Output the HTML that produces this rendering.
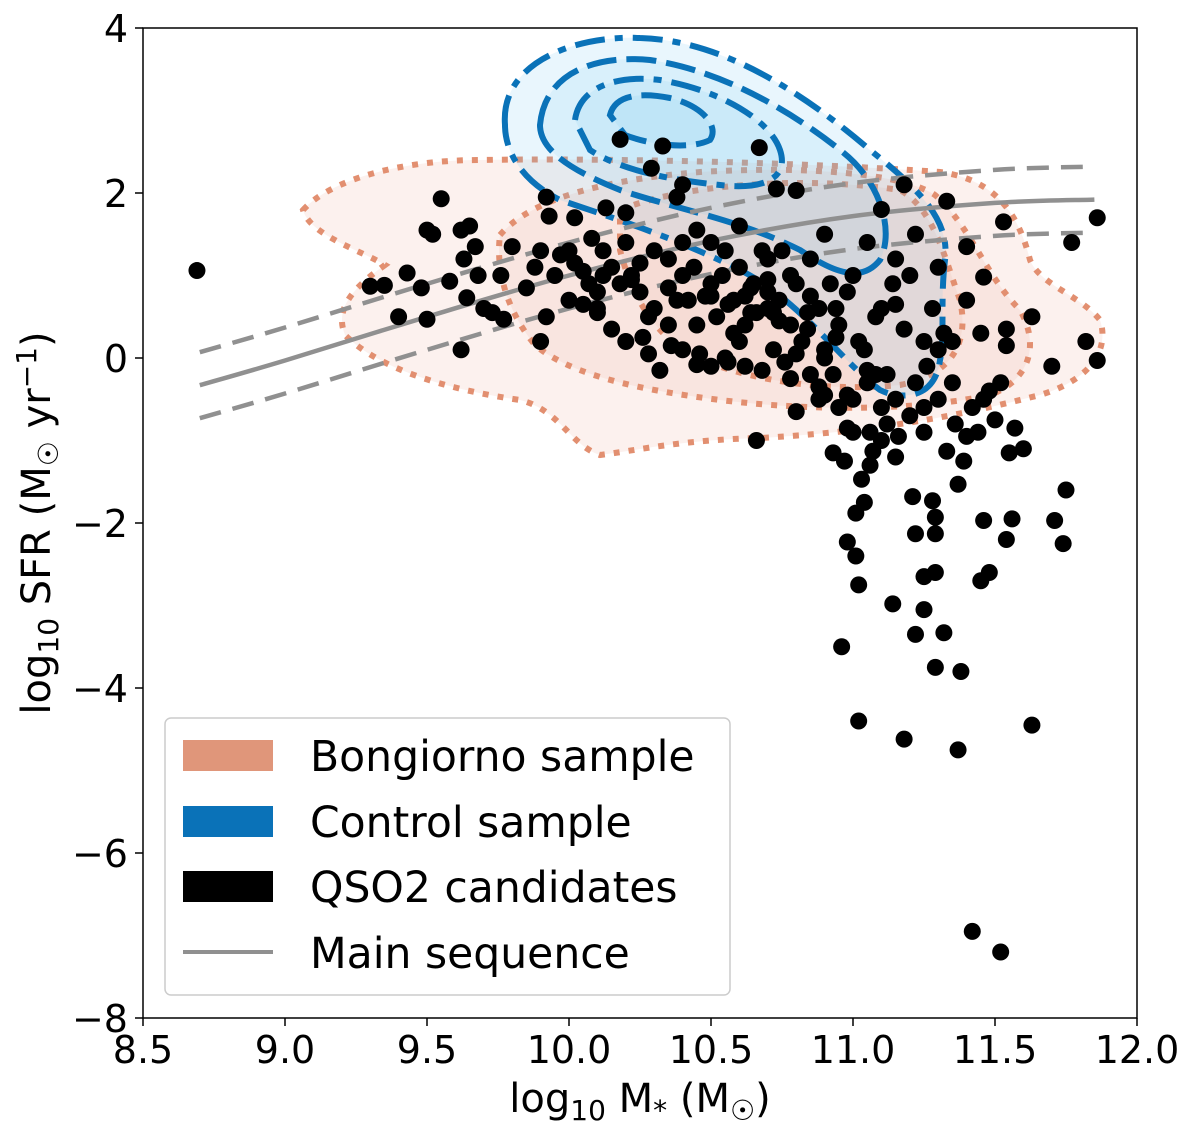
<!DOCTYPE html>
<html><head><meta charset="utf-8">
<style>
body{margin:0;background:#fff;}
svg{display:block;font-family:"DejaVu Sans","Liberation Sans",sans-serif;}
</style></head>
<body>
<svg id="chart" width="1200" height="1132" viewBox="0 0 1200 1132" xmlns="http://www.w3.org/2000/svg">
<defs><clipPath id="pc"><rect x="143" y="28" width="994" height="990"/></clipPath></defs>
<rect x="0" y="0" width="1200" height="1132" fill="#fff"/>
<g clip-path="url(#pc)">
 <g fill="#e5967a" stroke="#e28f70" stroke-width="6" stroke-dasharray="6 9">
  <path fill-opacity="0.13" d="M303 210 C330 180 400 160 480 160 C600 158 800 162 940 172 C1000 180 1020 220 1030 260 C1040 285 1080 295 1100 320 C1110 350 1090 380 1040 395 C980 410 900 430 760 438 C680 440 640 450 600 455 C570 445 560 410 520 400 C450 390 380 370 345 335 C335 310 350 290 385 265 C360 250 310 235 303 210 Z"/>
  <path fill-opacity="0.12" d="M500 235 C530 200 600 180 700 172 C800 166 900 172 935 195 C970 225 985 275 1020 310 C1040 345 1030 380 990 395 C920 410 820 412 720 400 C640 390 570 375 535 345 C510 315 495 275 500 235 Z"/>
  <path fill-opacity="0.1" d="M620 210 C680 185 800 175 900 190 C935 210 945 260 960 300 C970 345 950 375 900 385 C830 392 750 382 690 355 C650 330 630 290 620 250 Z"/>
 </g>
 <g fill="#6cc3f0" stroke="#0a72b8" stroke-width="6" stroke-linecap="butt">
  <path fill-opacity="0.15" stroke-dasharray="30 10 8 10" d="M505 125 C500 60 580 35 640 38 C720 40 800 90 870 150 C920 190 950 220 945 260 C940 300 945 340 940 360 C935 400 900 400 880 390 C840 360 800 300 740 270 C680 240 620 220 560 200 C520 180 505 150 505 125 Z"/>
  <path fill-opacity="0.12" stroke-dasharray="30 10" d="M540 125 C545 70 600 55 650 60 C720 70 790 110 840 150 C880 180 895 230 880 260 C860 285 830 270 800 250 C740 220 680 210 620 190 C570 170 540 150 540 125 Z"/>
  <path fill-opacity="0.12" stroke-dasharray="30 10 8 10" d="M575 120 C580 85 620 75 660 80 C720 90 770 120 780 150 C790 180 760 190 720 185 C670 180 620 170 590 150 Z"/>
  <path fill-opacity="0.12" stroke-dasharray="30 10" d="M610 115 C615 95 640 92 670 98 C700 105 720 125 710 140 C690 150 650 145 625 135 Z"/>
 </g>
</g>
<g id="ms"></g>
<g id="pts" clip-path="url(#pc)"></g>
<rect x="143" y="28" width="994" height="990" fill="none" stroke="#000" stroke-width="1.5"/>
<g id="ticks" font-size="38" fill="#000"></g>
<text x="640" y="1112" font-size="40" text-anchor="middle">log<tspan font-size="28" dy="8">10</tspan><tspan dy="-8"> M</tspan><tspan font-size="28" dy="8">*</tspan><tspan dy="-8"> (M</tspan><tspan font-size="28" dy="8">☉</tspan><tspan dy="-8">)</tspan></text>
<text transform="translate(50,523) rotate(-90)" font-size="40" text-anchor="middle">log<tspan font-size="28" dy="8">10</tspan><tspan dy="-8"> SFR (M</tspan><tspan font-size="28" dy="8">☉</tspan><tspan dy="-8"> yr</tspan><tspan font-size="28" dy="-14">−1</tspan><tspan dy="14">)</tspan></text>
<g>
 <rect x="165" y="718" width="565" height="277" rx="6" fill="#fff" fill-opacity="0.85" stroke="#ccc" stroke-width="1.5"/>
 <rect x="183" y="740" width="90" height="31" fill="#e0967a"/>
 <text x="310" y="771" font-size="42.5">Bongiorno sample</text>
 <rect x="183" y="806" width="90" height="31" fill="#0a72b8"/>
 <text x="310" y="837" font-size="42.5">Control sample</text>
 <rect x="183" y="871" width="90" height="31" fill="#000"/>
 <text x="310" y="902" font-size="42.5">QSO2 candidates</text>
 <line x1="183" y1="952" x2="273" y2="952" stroke="#909090" stroke-width="4"/>
 <text x="310" y="968" font-size="42.5">Main sequence</text>
</g>
</svg>
<script>
const xTicks=[8.5,9.0,9.5,10.0,10.5,11.0,11.5,12.0];
const yTicks=[4,2,0,-2,-4,-6,-8];
const msMass=[8.7,9.0,9.5,10.0,10.5,11.0,11.5,11.85];
const msSFR=[-0.33,-0.03,0.5,1.0,1.42,1.72,1.88,1.92];
const msScatter=0.4;
const qsoMass=[8.69,11.42,11.52,10.96,11.02,11.18,11.37,11.63,11.38,11.29,11.25,11.22,11.32,11.14,11.02,10.98,11.01,11.01,11.04,11.21,11.28,11.22,11.25,11.29,11.29,11.29,11.37,11.46,11.45,11.48,11.54,11.56,11.71,11.74,11.75,11.03,11.07,11.15,10.93,10.97,11.06,11.33,11.39,11.55,11.6,11.57,11.5,11.46,11.52,11.54,11.54,11.63,11.7,11.82,11.86,11.77,11.86,11.53,11.46,11.4,11.44,11.4,11.25,11.3,11.35,11.4,11.33,11.18,11.22,11.2,11.14,11.1,
10.18,10.33,10.29,10.4,10.38,10.67,10.73,10.8,10.13,10.2,10.02,9.92,9.93,9.55,9.65,9.62,9.5,9.52,9.67,9.63,9.68,9.76,9.8,9.43,9.3,9.35,9.48,9.58,9.64,9.7,9.73,9.77,9.4,9.5,9.62,9.9,9.92,9.95,9.9,9.97,10.05,10.07,10.1,10.12,10.2,10.22,10.25,10.15,10.2,10.28,10.32,10.3,10.35,10.4,10.42,10.45,10.5,10.55,10.52,10.58,10.6,10.62,10.65,10.68,10.7,10.72,10.76,10.78,10.8,10.85,10.88,10.9,10.93,10.95,10.98,11.0,11.02,11.05,11.08,11.1,11.12,11.15,10.85,10.8,10.66,10.5,10.4,10.6,10.45,10.8,10.95,11.0,11.1,11.16,11.2,11.22,11.25,11.28,11.3,11.35,11.05,11.0,10.9,11.1,10.75,10.7,10.6,10.5,10.45,10.3,10.25,10.15,10.0,10.08,10.05,10.35,10.28,10.55,10.62,10.9,10.98,11.08,11.25,11.18,11.15,10.92,10.85,10.66,10.58,10.38,10.1,10.18,10.4,10.7,10.78,11.3,11.15,11.45,11.48,11.42,11.36,11.06,
10.02,10.12,10.22,10.35,10.48,10.56,10.64,10.74,10.84,10.94,11.04,10.44,10.54,10.64,10.74,10.84,10.26,10.36,10.46,10.56,10.68,10.78,10.88,10.98,9.85,10.0,10.1,9.88,10.9,11.12,11.26,11.32,10.62,10.72,10.82,10.94,10.5,10.7,10.88,11.05];
const qsoSFR=[1.06,-6.95,-7.2,-3.5,-4.4,-4.62,-4.75,-4.45,-3.8,-3.75,-3.05,-3.35,-3.33,-2.98,-2.75,-2.23,-2.4,-1.88,-1.75,-1.68,-1.73,-2.13,-2.65,-2.6,-1.93,-2.13,-1.53,-1.97,-2.7,-2.6,-2.2,-1.95,-1.97,-2.25,-1.6,-1.47,-1.13,-1.2,-1.15,-1.25,-1.3,-1.13,-1.25,-1.15,-1.1,-0.85,-0.75,-0.5,-0.3,0.35,0.15,0.5,-0.1,0.2,-0.03,1.4,1.7,1.65,0.98,0.7,-0.9,-0.95,-0.9,-0.5,0.2,1.35,1.9,2.1,1.5,1.0,0.9,0.6,
2.65,2.57,2.3,2.1,1.95,2.55,2.05,2.03,1.82,1.76,1.7,1.95,1.72,1.93,1.6,1.55,1.55,1.5,1.35,1.2,1.0,1.0,1.35,1.03,0.87,0.88,0.85,0.93,0.73,0.6,0.55,0.47,0.5,0.47,0.1,0.2,0.5,1.0,1.3,1.25,1.05,0.9,0.8,1.3,1.4,1.0,0.8,0.35,0.2,0.5,-0.15,0.6,1.2,1.0,0.7,0.4,0.9,1.3,0.5,0.7,1.1,0.4,0.9,1.3,0.6,0.1,-0.05,0.4,0.9,1.2,0.6,0.1,-0.2,0.4,0.8,-0.5,0.2,-0.3,0.5,-0.6,-0.8,-0.5,-0.2,-0.65,-1.0,-0.1,0.1,0.2,-0.08,0.05,-0.6,-0.9,-1.0,-0.95,-0.7,-0.3,-0.6,0.6,0.1,-0.3,1.4,1.0,1.5,1.8,1.3,0.95,1.6,1.4,1.55,1.3,1.15,1.1,1.3,1.45,0.65,0.4,0.05,0.0,-0.1,-0.45,-0.85,-0.2,0.2,0.35,0.65,0.9,0.75,0.55,0.3,0.7,0.55,0.9,1.4,1.2,1.0,1.1,1.2,0.3,-0.4,-0.6,-0.8,-0.9,
1.15,1.0,0.95,0.85,0.75,0.65,0.55,0.45,0.35,0.25,0.1,1.1,1.0,0.85,0.7,0.55,0.25,0.15,0.05,-0.05,-0.15,-0.25,-0.35,-0.45,0.85,0.7,0.6,1.1,0.0,-0.2,-0.1,0.3,0.75,0.55,0.2,0.6,0.75,0.8,-0.5,-0.15];
const X=v=>143+(v-8.5)/3.5*994;
const Y=v=>28+(4-v)/12*990;
const NS='http://www.w3.org/2000/svg';
function mk(tag,attrs,parent){const e=document.createElementNS(NS,tag);for(const k in attrs)e.setAttribute(k,attrs[k]);parent.appendChild(e);return e;}
const ticks=document.getElementById('ticks');
xTicks.forEach(t=>{
 const l=mk('line',{x1:X(t),x2:X(t),y1:1018,y2:1026,stroke:'#000','stroke-width':1.5},ticks);
 
 
 const tx=mk('text',{x:X(t),y:1063,'text-anchor':'middle'},ticks);
 tx.textContent=t.toFixed(1);
 
 
});
yTicks.forEach(t=>{
 const l=mk('line',{x1:135,x2:143,y1:Y(t),y2:Y(t),stroke:'#000','stroke-width':1.5},ticks);
 
 
 const tx=mk('text',{x:128,y:Y(t)+14,'text-anchor':'end'},ticks);
 tx.textContent=t<0?'−'+Math.abs(t):String(t);
 
 
});
const ms=document.getElementById('ms');
function lineD(off){
 const p=msMass.map((m,i)=>[X(m),Y(msSFR[i]+off)]);
 let d='M'+p[0][0].toFixed(1)+' '+p[0][1].toFixed(1);
 for(let i=0;i<p.length-1;i++){
  const p0=p[Math.max(0,i-1)],p1=p[i],p2=p[i+1],p3=p[Math.min(p.length-1,i+2)];
  const c1=[p1[0]+(p2[0]-p0[0])/6,p1[1]+(p2[1]-p0[1])/6];
  const c2=[p2[0]-(p3[0]-p1[0])/6,p2[1]-(p3[1]-p1[1])/6];
  d+=' C'+c1[0].toFixed(1)+' '+c1[1].toFixed(1)+' '+c2[0].toFixed(1)+' '+c2[1].toFixed(1)+' '+p2[0].toFixed(1)+' '+p2[1].toFixed(1);
 }
 return d;
}
[[0,'none','ms-line'],[msScatter,'22 12','ms-upper'],[-msScatter,'22 12','ms-lower']].forEach(([o,da,n])=>{
 const p=mk('path',{d:lineD(o),fill:'none',stroke:'#909090','stroke-width':4.5,'stroke-dasharray':da,'stroke-linejoin':'round'},ms);
 
 
});
const pts=document.getElementById('pts');
qsoMass.forEach((m,i)=>{
 const c=mk('circle',{cx:X(m),cy:Y(qsoSFR[i]),r:8.5,fill:'#000'},pts);
 
 
});
</script>
</body></html>
